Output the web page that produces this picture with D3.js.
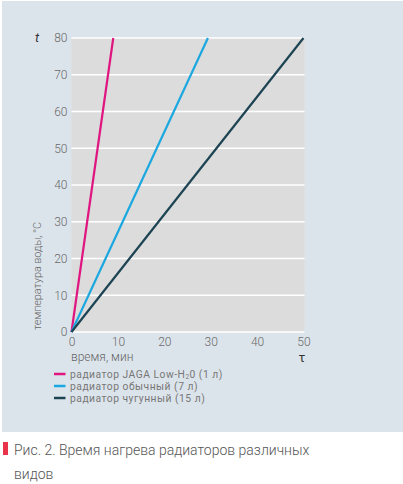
<!DOCTYPE html>
<html><head><meta charset="utf-8">
<script src="https://cdn.jsdelivr.net/npm/d3@7"></script>
<style>
body{margin:0;background:#fff;}
svg{display:block;}
text{font-family:Roboto,"Noto Sans",sans-serif;}
</style></head>
<body>
<svg id="c" width="403" height="484"></svg>
<script>
const xTicks = [0,10,20,30,40,50];
const yTicks = [0,10,20,30,40,50,60,70,80];
const seriesNames = ["радиатор JAGA Low-H₂0 (1 л)", "радиатор обычный (7 л)", "радиатор чугунный (15 л)"];
const seriesColors = ["#e0157f", "#1ba8e0", "#1d4453"];
const seriesX = [[0, 9], [0, 29.4], [0, 50]];
const seriesY = [[0, 80], [0, 80], [0, 80]];

const svg = d3.select("#c");
svg.append("rect").attr("x",2).attr("y",1).attr("width",401).attr("height",431).attr("fill","#dce4eb");

const x = d3.scaleLinear().domain([0,50]).range([71.5,303.5]);
const y = d3.scaleLinear().domain([0,80]).range([332,38]);

svg.append("rect").attr("x",x(0)).attr("y",y(80)).attr("width",x(50)-x(0)+1).attr("height",y(0)-y(80)).attr("fill","#dcdcdc");

// gridlines
svg.append("g").selectAll("line").data(yTicks).join("line")
  .attr("x1",x(0)).attr("x2",x(50)+1).attr("y1",d=>y(d)).attr("y2",d=>y(d))
  .attr("stroke","#fff").attr("stroke-width",1.5);

// axes
const yAxis = svg.append("g").attr("transform",`translate(${x(0)-4},0)`)
  .call(d3.axisLeft(y).tickValues(yTicks).tickSize(0).tickPadding(0));
yAxis.select(".domain").remove();
yAxis.selectAll("text").attr("fill","#6a6a6a").attr("font-size",12).attr("font-weight",300);

const xAxis = svg.append("g").attr("transform",`translate(0,${y(0)+4})`)
  .call(d3.axisBottom(x).tickValues(xTicks).tickSize(0).tickPadding(0));
xAxis.select(".domain").remove();
xAxis.selectAll("text").attr("fill","#6a6a6a").attr("font-size",12).attr("font-weight",300).attr("dy","0.85em");

// lines
const line = d3.line().x(d=>x(d[0])).y(d=>y(d[1]));
seriesX.forEach((xs,i)=>{
  const pts = xs.map((v,j)=>[v, seriesY[i][j]]);
  svg.append("path").attr("d",line(pts)).attr("fill","none")
    .attr("stroke",seriesColors[i]).attr("stroke-width",2.2);
});

// axis titles
svg.append("text").attr("x",35).attr("y",42).attr("font-style","italic").attr("font-size",13)
  .attr("fill","#333").attr("font-family","'Liberation Serif',serif").text("t");
svg.append("text").attr("x",302).attr("y",362).attr("text-anchor","middle").attr("font-size",13)
  .attr("fill","#333").attr("font-family","'Liberation Serif',serif").text("τ");
svg.append("text").attr("x",71).attr("y",361).attr("font-size",12).attr("font-weight",300)
  .attr("fill","#666").text("время, мин");
svg.append("text").attr("transform","translate(41,276) rotate(-90)").attr("text-anchor","middle")
  .attr("font-size",11).attr("font-weight",300).attr("fill","#666").attr("letter-spacing",-0.1)
  .text("температура воды, °С");

// legend
const lg = svg.append("g");
seriesNames.forEach((n,i)=>{
  const yy = 374 + i*12;
  lg.append("line").attr("x1",54).attr("x2",65.5).attr("y1",yy).attr("y2",yy)
    .attr("stroke",seriesColors[i]).attr("stroke-width",2.5);
  const t = lg.append("text").attr("x",70).attr("y",yy+3.6)
    .attr("font-family","'Liberation Sans Narrow','Arial Narrow',sans-serif")
    .attr("font-size",10.3).attr("letter-spacing",0.5).attr("fill","#777");
  if (n.includes("₂")) {
    const parts = n.split("₂");
    t.append("tspan").text(parts[0]);
    t.append("tspan").attr("font-size",6.5).attr("dy",1.2).text("2");
    t.append("tspan").attr("dy",-1.2).text(parts[1]);
  } else t.text(n);
});

// caption
svg.append("rect").attr("x",3).attr("y",442).attr("width",5).attr("height",13).attr("fill","#e8334a");
svg.append("text").attr("x",14).attr("y",455).attr("font-size",14).attr("font-weight",300)
  .attr("fill","#555").text("Рис. 2. Время нагрева радиаторов различных");
svg.append("text").attr("x",14).attr("y",479).attr("font-size",14).attr("font-weight",300)
  .attr("fill","#555").text("видов");
</script>
</body></html>
